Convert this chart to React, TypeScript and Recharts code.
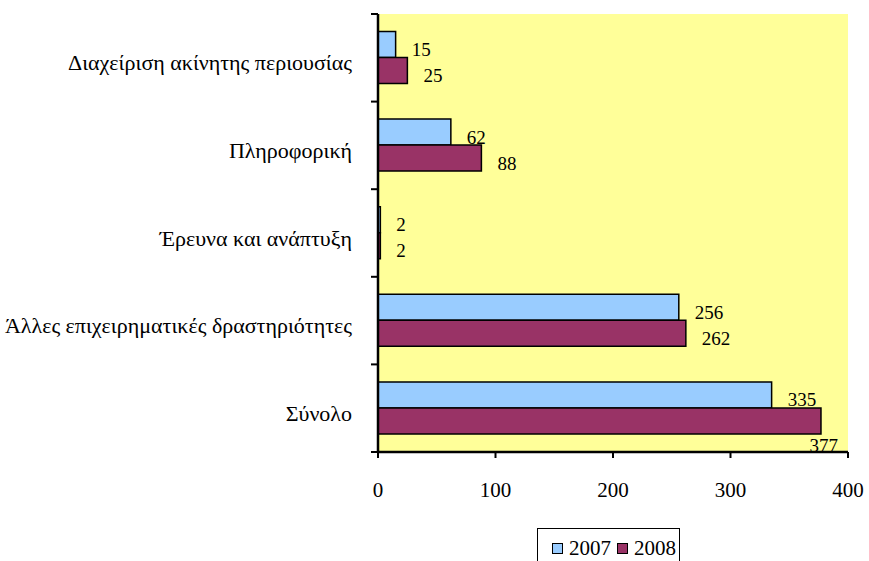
import { Bar, BarChart, CartesianGrid, LabelList, Legend, XAxis, YAxis } from "recharts";

const categories = [
  "Διαχείριση ακίνητης περιουσίας",
  "Πληροφορική",
  "Έρευνα και ανάπτυξη",
  "Άλλες επιχειρηματικές δραστηριότητες",
  "Σύνολο",
];
const values2007 = [15, 62, 2, 256, 335];
const values2008 = [25, 88, 2, 262, 377];
const xTicks = [0, 100, 200, 300, 400];

const data = categories.map((name, i) => ({
  name,
  y2007: values2007[i],
  y2008: values2008[i],
}));

const W = 869;
const H = 561;
const MARGIN = { top: 14, right: 21, bottom: 0, left: 0 };
const X_AXIS_H = 109;
const TICK_SIZE = 6;
const TICK_MARGIN = 20;
const PLOT_RIGHT = W - MARGIN.right;
const HALF_BAND = (H - MARGIN.top - X_AXIS_H) / categories.length / 2;
const FONT = "Liberation Serif, DejaVu Serif, serif";

function CategoryTick(props: any) {
  const { x, y, payload, index, visibleTicksCount } = props;
  const half = payload?.offset || HALF_BAND;
  const axisX = x + TICK_SIZE + TICK_MARGIN;
  return (
    <g>
      <text
        x={x}
        y={y}
        dy={5}
        textAnchor="end"
        dominantBaseline="central"
        style={{ fontFamily: FONT, fontSize: 22 }}
        fill="#000"
      >
        {payload.value}
      </text>
      <line x1={axisX - 7} x2={axisX} y1={y - half} y2={y - half} stroke="#000" strokeWidth={2} />
      {index === visibleTicksCount - 1 && (
        <line x1={axisX - 7} x2={axisX} y1={y + half} y2={y + half} stroke="#000" strokeWidth={2} />
      )}
    </g>
  );
}

function ValueLabel(props: any) {
  const { x, y, width, height, value } = props;
  const end = Number(x) + Number(width);
  const text = String(value);
  const overflow = end + 16 + text.length * 9.5 > PLOT_RIGHT;
  const style = { fontFamily: FONT, fontSize: 19 };
  if (overflow) {
    return (
      <text
        x={end + 17}
        y={Number(y) + Number(height) + 12}
        textAnchor="end"
        dominantBaseline="central"
        style={style}
        fill="#000"
      >
        {text}
      </text>
    );
  }
  return (
    <text
      x={end + 16}
      y={Number(y) + Number(height) / 2 + 5}
      textAnchor="start"
      dominantBaseline="central"
      style={style}
      fill="#000"
    >
      {text}
    </text>
  );
}

function LegendBox(props: any) {
  const items = props.payload || [];
  return (
    <div
      style={{
        border: "1px solid #000",
        background: "#fff",
        height: 40,
        boxSizing: "border-box",
        display: "flex",
        alignItems: "flex-start",
        paddingLeft: 14,
        paddingTop: 7,
        fontFamily: FONT,
        fontSize: 21,
        lineHeight: "24px",
      }}
    >
      {items.map((it: any) => (
        <span key={it.value} style={{ display: "flex", alignItems: "center", marginRight: 6 }}>
          <span
            style={{
              width: 9,
              height: 9,
              background: it.color,
              border: "1px solid #000",
              marginRight: 6,
              display: "inline-block",
            }}
          />
          {it.value}
        </span>
      ))}
    </div>
  );
}

export default function App() {
  return (
    <div style={{ position: "absolute", left: 0, top: 0, width: W, height: H, background: "#fff", fontFamily: FONT }}>
      <BarChart
        width={W}
        height={H}
        data={data}
        layout="vertical"
        margin={MARGIN}
        barCategoryGap="20%"
        barGap={0}
        style={{ fontFamily: FONT }}
      >
        <CartesianGrid horizontal={false} vertical={false} fill="#FFFF99" fillOpacity={1} />
        <XAxis
          type="number"
          domain={[0, 400]}
          ticks={xTicks}
          height={X_AXIS_H}
          tickSize={6}
          tickMargin={24}
          tick={{ fontSize: 21, fill: "#000", style: { fontFamily: FONT } }}
          tickLine={{ stroke: "#000", strokeWidth: 2 }}
          axisLine={{ stroke: "#000", strokeWidth: 2.5 }}
        />
        <XAxis
          xAxisId="top"
          orientation="top"
          type="number"
          domain={[0, 400]}
          height={0}
          tick={false}
          tickLine={false}
          axisLine={{ stroke: "#000", strokeWidth: 2 }}
        />
        <YAxis
          type="category"
          dataKey="name"
          width={378}
          interval={0}
          tickSize={TICK_SIZE}
          tickMargin={TICK_MARGIN}
          tickLine={false}
          tick={<CategoryTick />}
          axisLine={{ stroke: "#000", strokeWidth: 2.5 }}
        />
        <YAxis
          yAxisId="right"
          orientation="right"
          type="number"
          domain={[0, 1]}
          width={0}
          tick={false}
          tickLine={false}
          axisLine={{ stroke: "#000", strokeWidth: 2 }}
        />
        <Legend
          verticalAlign="middle"
          align="center"
          layout="horizontal"
          content={<LegendBox />}
          wrapperStyle={{ left: 537, top: 528, width: 143, height: 40 }}
        />
        <Bar dataKey="y2007" name="2007" fill="#99CCFF" stroke="#000" strokeWidth={1.5} isAnimationActive={false}>
          <LabelList dataKey="y2007" content={<ValueLabel />} />
        </Bar>
        <Bar dataKey="y2008" name="2008" fill="#993366" stroke="#000" strokeWidth={1.5} isAnimationActive={false}>
          <LabelList dataKey="y2008" content={<ValueLabel />} />
        </Bar>
      </BarChart>
    </div>
  );
}
